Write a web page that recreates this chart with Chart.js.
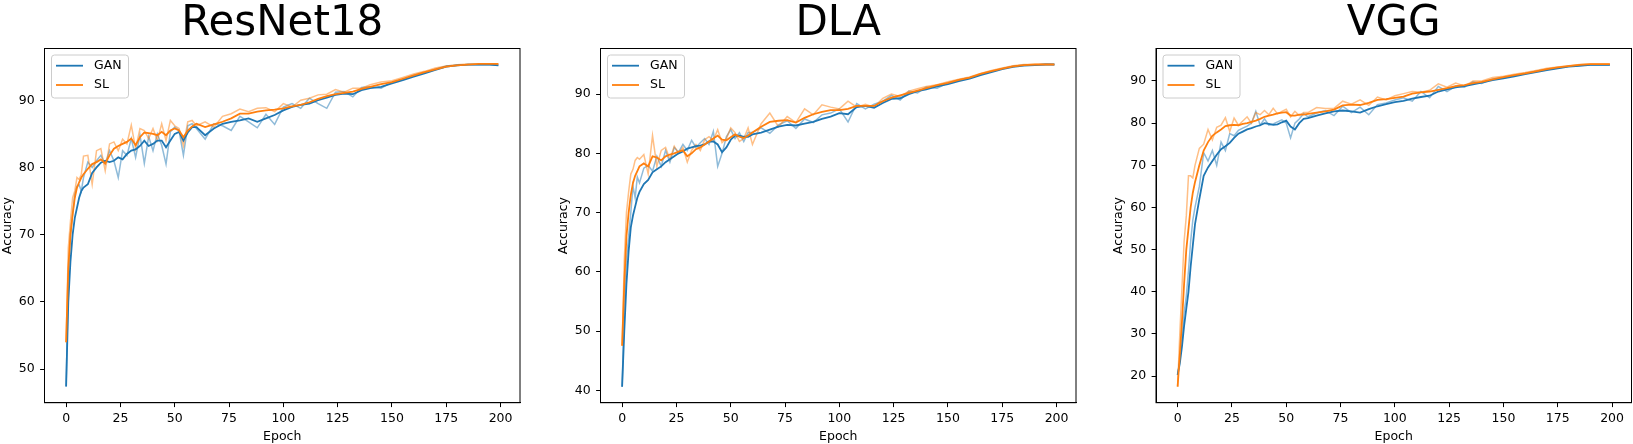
<!DOCTYPE html>
<html>
<head>
<meta charset="utf-8">
<script src="https://cdn.jsdelivr.net/npm/chart.js@4.4.1/dist/chart.umd.min.js"></script>
<style>
  html, body { margin: 0; padding: 0; background: #fff; overflow: hidden; }
  body { width: 1633px; height: 444px; position: relative; }
  canvas { position: absolute; top: 0; }
</style>
</head>
<body>
<canvas id="c1"></canvas>
<canvas id="c2"></canvas>
<canvas id="c3"></canvas>
<script>
const epochs = [0, 1, 2, 3, 4, 5, 6, 7, 8,
  10, 12, 14, 16, 18, 20, 22, 24, 26, 28, 30, 32, 34, 36, 38, 40, 42, 44, 46, 48, 50, 52, 54, 56, 58, 60,
  64, 68, 72, 76, 80, 84, 88, 92, 96, 100, 104, 108, 112, 116, 120, 124, 128, 132, 136,
  140, 145, 150, 155, 160, 165, 170, 175, 180, 185, 190, 195, 199];

const titles = ["ResNet18", "DLA", "VGG"];
const seriesNames = ["GAN", "SL"];
const xTicks = [0, 25, 50, 75, 100, 125, 150, 175, 200];
const yTicksRes = [50, 60, 70, 80, 90];
const yTicksDla = [40, 50, 60, 70, 80, 90];
const yTicksVgg = [20, 30, 40, 50, 60, 70, 80, 90];

// ResNet18
const resGanRaw = [47.4, 63, 70, 73, 76, 77.2, 77.4, 76.5, 78.5,
  80.8, 80, 81, 81.8, 80.5, 82.5, 81, 78.5, 82.5, 81.8, 84.3, 81.5, 84.8, 80.6, 84.6, 82.5, 85, 83.3, 80.5, 85.3, 86, 85.5, 81.8, 86.2, 86.5, 85.8,
  84.2, 86.5, 86.2, 85.5, 87.6, 86.8, 85.9, 87.9, 86.4, 89, 89.5, 88.8, 90.3, 89.5, 88.8, 91.2, 91.3, 90.5, 91.9,
  92, 91.8, 92.7, 93.1, 93.7, 94.1, 94.6, 95.1, 95.2, 95.3, 95.3, 95.3, 95.2];
const resSlRaw = [54, 68, 72, 75.5, 76.5, 78.5, 78.2, 79, 81.7,
  81.8, 77.5, 82.5, 82.8, 79.5, 83.5, 83.8, 82.5, 84.2, 83.5, 86.3, 82.8, 85.8, 85.5, 84.3, 85.8, 84, 86.5, 84, 87, 86.2, 85.8, 83.2, 86.8, 87, 86.2,
  86.8, 86, 87.6, 88, 88.7, 88.3, 88.8, 88.9, 88.3, 89.5, 89, 90, 90.3, 90.8, 90.9, 91.6, 91.2, 91.8, 91.8,
  92.3, 92.7, 92.9, 93.4, 93.9, 94.3, 94.8, 95.1, 95.3, 95.4, 95.4, 95.4, 95.4];
const resGanSm = [47.4, 60, 66, 70, 72.5, 74, 75.5, 76.5, 77,
  77.5, 79.2, 80, 80.7, 81, 80.8, 81, 81.5, 81.2, 82, 82.5, 82.7, 83.2, 84, 83.2, 83.5, 84, 84, 83, 84, 85, 85.3, 84, 85.2, 86, 86,
  84.8, 85.8, 86.5, 86.8, 87, 87.3, 86.8, 87.3, 87.8, 88.5, 89, 89.3, 89.5, 90, 90.4, 90.8, 91, 90.9, 91.5,
  91.8, 92, 92.5, 93, 93.5, 94, 94.5, 95, 95.2, 95.3, 95.3, 95.3, 95.2];
const resSlSm = [54, 65, 70, 73, 75.5, 77, 77.8, 78.5, 79,
  79.8, 80.5, 80.8, 81.2, 80.6, 81.8, 82.8, 83.2, 83.5, 83.8, 84.3, 83.3, 84.5, 85.2, 85.1, 85, 84.8, 85.3, 84.8, 85.5, 85.8, 85.5, 84.5, 85.5, 86.1, 86.5,
  86, 86.4, 86.8, 87.3, 88, 88, 88.3, 88.5, 88.6, 88.8, 89.1, 89.3, 89.7, 90.2, 90.6, 90.9, 91.1, 91.3, 91.7,
  92, 92.4, 92.7, 93.2, 93.7, 94.2, 94.6, 95, 95.2, 95.3, 95.4, 95.4, 95.4];

// DLA
const dlaGanRaw = [40.6, 54, 62, 66, 70, 74.5, 72.5, 76, 75,
  77.5, 78, 77, 79.5, 77.8, 80.5, 78.5, 81, 80.2, 81.5, 80.5, 82.2, 81, 81.8, 82.5, 81.5, 83.7, 77.8, 80, 82.8, 84, 82.5, 83.5, 82, 83.5, 83.5,
  84.3, 83.4, 84.8, 85.5, 84.2, 85.8, 85.2, 86.5, 86.8, 87.5, 85.3, 88.4, 87.5, 88.3, 88.8, 89.8, 89, 90.5, 90.2,
  91.2, 91, 91.9, 92.4, 92.8, 93.3, 93.8, 94.3, 94.7, 94.9, 94.9, 95, 95];
const dlaSlRaw = [47.5, 62, 70, 73.5, 76.5, 77.3, 78.8, 79.3, 79,
  79.8, 76.5, 83, 77.8, 80.5, 81, 79, 81.2, 80, 81, 78.5, 80.5, 81.5, 80.5, 82.3, 82.8, 82.2, 84, 81.8, 82.5, 84.3, 83.5, 82, 82.5, 84.3, 81.5,
  85, 86.8, 84.5, 86.2, 85.2, 87.5, 86.5, 88.2, 87.8, 87.5, 88.8, 87.8, 88.3, 87.8, 89.3, 90, 89.6, 90.5, 90.9,
  91.3, 91.6, 92.1, 92.5, 92.9, 93.5, 94, 94.4, 94.8, 95, 95, 95.1, 95];
const dlaGanSm = [40.6, 50, 58, 63.5, 67.5, 69.5, 71, 72.5, 73.5,
  74.8, 75.5, 76.8, 77.3, 77.8, 78.5, 79, 79.5, 80, 80.3, 80.8, 81, 81.2, 81.3, 81.5, 82, 82, 81.5, 80.2, 81, 82.3, 83, 83, 82.8, 82.8, 83.2,
  83.5, 84, 84.5, 84.8, 84.7, 85, 85.3, 85.8, 86.2, 86.8, 86.6, 87.8, 88, 87.7, 88.5, 89.2, 89.3, 90, 90.5,
  90.8, 91.3, 91.7, 92.2, 92.6, 93.2, 93.7, 94.2, 94.6, 94.8, 94.9, 95, 95];
const dlaSlSm = [47.5, 58, 66, 70, 73, 75, 76.2, 77, 77.8,
  78.3, 77.8, 79.5, 79.3, 78.8, 79.5, 79.8, 80, 80.3, 80.5, 79.5, 80, 80.7, 81, 81.5, 82, 82.5, 83, 82.3, 82.2, 82.7, 83.2, 82.8, 82.6, 83, 83.5,
  84.5, 85.3, 85.5, 85.6, 85.2, 86, 86.6, 87, 87.3, 87.3, 87.5, 88, 88, 88, 88.8, 89.4, 89.8, 90.2, 90.6,
  91, 91.5, 91.9, 92.4, 92.8, 93.4, 93.9, 94.3, 94.7, 94.9, 95, 95, 95];

// VGG
const vggGanRaw = [20.3, 24, 29, 35, 39, 45, 52, 57, 60,
  65, 73, 71, 73.5, 70, 75.5, 73.5, 77.5, 77, 78.3, 78.8, 79.3, 80, 82.8, 79.5, 81, 79.5, 79.8, 80.3, 80.8, 80, 76.5, 80, 81, 82.3, 81.5,
  82.4, 83, 81.8, 84, 82.5, 83.8, 82, 84.4, 84.8, 85.5, 86, 85.2, 87.5, 86, 88.7, 87.5, 88.8, 88.5, 89.8,
  89.4, 90.5, 90.8, 91.3, 91.8, 92.3, 92.8, 93.1, 93.5, 93.7, 93.8, 93.8, 93.8];
const vggSlRaw = [17.5, 30, 41, 52, 58, 67.5, 67.5, 67, 70,
  74, 75, 78.5, 76, 79, 79.5, 81.3, 78, 81.2, 79.5, 80.5, 81.5, 80, 82.5, 82, 83, 82, 83.5, 82.2, 82.8, 83.3, 81.5, 82.8, 81.8, 82.5, 82.5,
  83.7, 83.5, 83.5, 85.2, 84.5, 85.5, 84.2, 86.2, 85.5, 86.5, 87, 87.5, 87.3, 87.8, 89.3, 88.5, 89.5, 88.8, 90,
  90, 90.8, 91.1, 91.6, 92, 92.5, 93, 93.3, 93.6, 93.9, 94, 94, 94];
const vggGanSm = [20.3, 23, 27, 32, 36, 40, 46, 51, 56,
  62, 67.5, 69.5, 71, 72.5, 73.8, 74.5, 75.3, 76.5, 77.5, 78, 78.5, 78.8, 79.2, 79.5, 80, 79.8, 79.6, 79.7, 80.2, 80.6, 79.2, 78.5, 80, 81, 81.2,
  81.8, 82.3, 82.8, 83, 82.8, 82.5, 83.3, 84, 84.5, 85, 85.3, 85.8, 86.2, 86.5, 87.5, 88, 88.5, 88.8, 89.2,
  89.6, 90.2, 90.6, 91.1, 91.6, 92.1, 92.6, 93, 93.4, 93.6, 93.8, 93.8, 93.8];
const vggSlSm = [17.5, 25, 33, 42, 50, 55, 60, 63.5, 66,
  70, 73.5, 75.5, 77, 77.8, 78.5, 79.3, 79.5, 79.6, 79.5, 79.8, 80, 80.3, 80.6, 81, 81.5, 81.8, 82, 82.3, 82.5, 82.6, 81.8, 81.8, 82, 82, 82.2,
  82.5, 82.8, 83.2, 84.2, 84.4, 84.3, 84.8, 85.5, 85.7, 86, 86.3, 87, 87.3, 87.5, 87.9, 88.3, 88.8, 89, 89.5,
  89.8, 90.4, 90.9, 91.4, 91.8, 92.3, 92.8, 93.2, 93.5, 93.8, 94, 94, 94];

const blue = "#1f77b4";
const orange = "#ff7f0e";
const font = "'DejaVu Sans', 'Liberation Sans', sans-serif";

Chart.defaults.font.family = font;
Chart.defaults.font.size = 12.5;
Chart.defaults.color = "#000";

function toPoints(ys) {
  return epochs.map(function (e, i) { return { x: e, y: ys[i] }; });
}

// title, box spines and legend like matplotlib
const framePlugin = {
  id: "frame",
  afterDatasetsDraw(chart, args, opts) {
    const ctx = chart.ctx;
    const a = chart.chartArea;
    ctx.save();
    ctx.strokeStyle = "#000";
    ctx.lineWidth = 1;
    ctx.strokeRect(a.left, a.top, a.right - a.left, a.bottom - a.top);

    const lx = a.left + 7, ly = a.top + 6.5;
    ctx.beginPath();
    ctx.roundRect(lx, ly, 77, 43, 3);
    ctx.fillStyle = "rgba(255,255,255,0.8)";
    ctx.fill();
    ctx.strokeStyle = "#cccccc";
    ctx.stroke();
    [blue, orange].forEach(function (c, i) {
      const y = ly + 10.7 + i * 19.3;
      ctx.strokeStyle = c;
      ctx.lineWidth = 1.8;
      ctx.beginPath();
      ctx.moveTo(lx + 4.5, y);
      ctx.lineTo(lx + 31.5, y);
      ctx.stroke();
      ctx.fillStyle = "#000";
      ctx.font = "12.5px " + font;
      ctx.textAlign = "left";
      ctx.textBaseline = "middle";
      ctx.fillText(seriesNames[i], lx + 42.5, y);
    });

    ctx.font = "42px " + font;
    ctx.textAlign = "center";
    ctx.textBaseline = "alphabetic";
    ctx.fillStyle = "#000";
    ctx.fillText(opts.title, (a.left + a.right) / 2, 35);
    ctx.restore();
  }
};

function drawPanel(id, left, width, yw, padRight, title, yMin, yMax, yTicks, ganRaw, slRaw, ganSm, slSm) {
  const canvas = document.getElementById(id);
  canvas.width = width;
  canvas.height = 444;
  canvas.style.left = left + "px";

  new Chart(canvas.getContext("2d"), {
    type: "line",
    data: {
      datasets: [
        { label: seriesNames[0] + " raw", data: toPoints(ganRaw), borderColor: "rgba(31,119,180,0.5)", borderWidth: 1.5, order: 4 },
        { label: seriesNames[1] + " raw", data: toPoints(slRaw), borderColor: "rgba(255,127,14,0.5)", borderWidth: 1.5, order: 3 },
        { label: seriesNames[0], data: toPoints(ganSm), borderColor: blue, borderWidth: 1.8, order: 2 },
        { label: seriesNames[1], data: toPoints(slSm), borderColor: orange, borderWidth: 1.8, order: 1 },
      ],
    },
    options: {
      responsive: false,
      animation: false,
      devicePixelRatio: 1,
      elements: { point: { radius: 0 }, line: { tension: 0, fill: false } },
      layout: { padding: { top: 48.5, right: padRight, left: 0, bottom: 0 } },
      plugins: {
        legend: { display: false },
        tooltip: { enabled: false },
        frame: { title: title },
      },
      scales: {
        x: {
          type: "linear",
          min: -9.95,
          max: 208.95,
          afterBuildTicks: function (s) { s.ticks = xTicks.map(function (v) { return { value: v }; }); },
          afterFit: function (s) { s.height = 41.3; },
          grid: { drawOnChartArea: false, tickLength: 4.4, tickColor: "#000", tickWidth: 1 },
          border: { color: "#000", width: 1 },
          ticks: { padding: 4, color: "#000", maxRotation: 0, autoSkip: false },
          title: { display: true, text: "Epoch", color: "#000", padding: { top: 0, bottom: 0 } },
        },
        y: {
          type: "linear",
          min: yMin,
          max: yMax,
          afterBuildTicks: function (s) { s.ticks = yTicks.map(function (v) { return { value: v }; }); },
          afterFit: function (s) { s.width = yw; },
          grid: { drawOnChartArea: false, tickLength: 4.4, tickColor: "#000", tickWidth: 1 },
          border: { color: "#000", width: 1 },
          ticks: { padding: 5.5, color: "#000", autoSkip: false },
          title: { display: true, text: "Accuracy", color: "#000", padding: { top: 0, bottom: 0 } },
        },
      },
    },
    plugins: [framePlugin],
  });
}

drawPanel("c1", 0, 545, 44.5, 25, titles[0], 45.0, 97.7, yTicksRes, resGanRaw, resSlRaw, resGanSm, resSlSm);
drawPanel("c2", 556, 545, 44.5, 25, titles[1], 37.9, 97.7, yTicksDla, dlaGanRaw, dlaSlRaw, dlaGanSm, dlaSlSm);
drawPanel("c3", 1111, 522, 45, 1.5, titles[2], 13.7, 97.7, yTicksVgg, vggGanRaw, vggSlRaw, vggGanSm, vggSlSm);
</script>
</body>
</html>
